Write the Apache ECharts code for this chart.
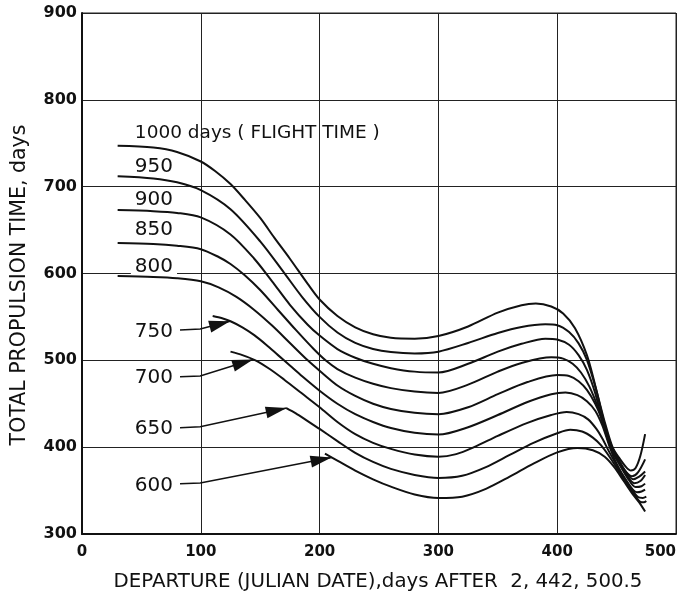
<!DOCTYPE html>
<html><head><meta charset="utf-8">
<script src="https://cdn.jsdelivr.net/npm/echarts@6/dist/echarts.min.js"></script>
<style>html,body{margin:0;padding:0;background:#fff}#c{width:677px;height:592px}</style>
</head><body><div id="c"></div>
<script>
// ---- data (departure day, total propulsion time) for each flight time curve ----
const flightTimes = [1000, 950, 900, 850, 800, 750, 700, 650, 600];

const x1000 = [30, 60, 80, 100, 112, 125, 137, 150, 162, 175, 190, 200, 215, 230, 245, 260, 280, 300, 325, 350, 370, 382, 395, 405, 415, 425, 432, 440, 446, 452, 458, 462, 466, 470, 474];
const y1000 = [747, 745, 740, 729, 718, 703, 685, 664, 641, 617, 588, 570, 551, 538, 530, 526, 525, 528, 539, 555, 563.5, 565.5, 562, 554, 537, 506, 471, 426, 401, 388, 377, 373, 376, 390, 415];

const x950 = [30, 60, 80, 100, 125, 150, 170, 185, 200, 215, 230, 245, 260, 280, 300, 325, 350, 370, 390, 400, 410, 418, 425, 432, 440, 446, 452, 458, 463, 468, 474];
const y950 = [712, 709.5, 705, 696, 674, 637, 601, 573.5, 550, 532, 520, 513, 509.5, 508, 510, 520, 531.5, 538.5, 541.5, 540.5, 532.5, 519.5, 500.5, 470, 429, 402, 385, 371.5, 366.5, 371, 386];

const x900 = [30, 60, 80, 100, 125, 145, 160, 175, 190, 200, 215, 230, 245, 260, 280, 300, 325, 350, 370, 390, 400, 410, 418, 425, 432, 439, 445, 451, 457, 464, 469, 474];
const y900 = [673, 671.8, 669.8, 664.6, 645, 617, 591, 564, 541, 528.5, 513, 503, 496, 491, 487, 486, 496, 510, 519, 525, 524, 518, 506, 489, 462, 425, 400, 386, 373, 363, 366, 372];

const x850 = [30, 60, 80, 100, 115, 125, 137, 150, 165, 180, 195, 205, 215, 230, 245, 260, 280, 300, 325, 350, 370, 395, 405, 413, 420, 427, 434, 440, 445, 451, 458, 465, 470, 474];
const y850 = [635, 634, 632, 628, 619, 611, 598, 581, 558, 535, 513, 500, 490, 480, 473, 468, 464, 462.5, 472, 487, 497, 503.5, 502, 496, 486, 470, 447, 422, 402, 385, 369, 358.5, 361, 368];

const x800 = [30, 60, 80, 100, 115, 130, 145, 160, 175, 190, 200, 215, 230, 245, 260, 280, 300, 325, 350, 375, 400, 410, 418, 425, 432, 437, 442, 446, 452, 459, 466, 471, 474];
const y800 = [597, 596, 594.5, 591, 584, 573, 558, 540, 520, 500, 488, 471, 459, 450, 444, 439.5, 438, 446, 461, 475, 483, 482, 476, 466, 450, 434, 412, 396, 381, 365, 354, 355, 358];

const x750 = [110, 118, 125, 135, 145, 155, 165, 175, 185, 200, 215, 230, 245, 260, 280, 300, 325, 350, 375, 395, 407, 417, 425, 432, 438, 444, 450, 458, 467, 471, 474];
const y750 = [551, 548.5, 545, 538, 529, 518, 506, 494, 482, 465, 450, 438, 429, 422, 416.5, 414.5, 423, 437, 452, 461, 463, 460, 453, 442, 425, 401, 381, 362, 348, 349, 351];

const x700 = [125, 135, 146, 158, 170, 185, 200, 215, 230, 245, 260, 280, 300, 315, 330, 350, 375, 395, 408, 418, 426, 433, 438, 444, 451, 460, 468, 472, 475];
const y700 = [510, 506, 500, 490, 478, 462, 446, 429, 415, 405, 398, 391.5, 389, 392, 400, 413, 428, 437, 440.5, 438, 432, 421, 410, 394, 377, 357, 342.5, 341.5, 343];

const x650 = [172, 180, 190, 200, 215, 230, 245, 260, 280, 300, 320, 340, 360, 380, 400, 411, 421, 430, 437, 444, 452, 460, 466, 470, 473, 475];
const y650 = [445, 439, 430, 421, 407, 393.5, 383, 375, 368, 364.5, 367, 377, 391, 405, 416, 420, 418, 411, 402, 389, 372, 355, 343.5, 337, 336.5, 338];

const x600 = [204.5, 215, 230, 245, 260, 280, 300, 320, 340, 360, 380, 400, 417, 430, 440, 448, 456, 464, 470, 474];
const y600 = [392.5, 384.5, 373, 363, 354.5, 345.5, 341.5, 343, 352, 366, 381, 394, 399, 396.5, 389, 377, 361, 345, 334.5, 326];

const xTicks = [0, 100, 200, 300, 400, 500];
const yTicks = [300, 400, 500, 600, 700, 800, 900];

const curveX = [x1000, x950, x900, x850, x800, x750, x700, x650, x600];
const curveY = [y1000, y950, y900, y850, y800, y750, y700, y650, y600];

const labelTexts = ['1000 days ( FLIGHT TIME )', '950', '900', '850', '800', '750', '700', '650', '600'];
const xTitle = 'DEPARTURE (JULIAN DATE),days AFTER  2, 442, 500.5';
const yTitle = 'TOTAL PROPULSION TIME, days';

// ---- annotation layout (data coordinates of label anchors / leader lines) ----
const labelAnchors = [[44.5, 762], [44.5, 723], [44.5, 685], [44.5, 650], [44.5, 608], [44.5, 533], [44.5, 480], [44.5, 421], [44.5, 356]];
const leaders = [
  {label: '750', pts: [[82.5, 535], [99.5, 536], [124.6, 545]]},
  {label: '700', pts: [[82.5, 481], [99.5, 482], [144, 501]]},
  {label: '650', pts: [[82.5, 422.4], [99.5, 423.6], [172.3, 445]]},
  {label: '600', pts: [[82.5, 358], [99.5, 358.7], [210, 388]]}
];

const FONT = '"DejaVu Sans", "Liberation Sans", sans-serif';
const ink = '#111';

const series = flightTimes.map((ft, i) => ({
  name: String(ft),
  type: 'line',
  data: curveX[i].map((x, j) => [x, curveY[i][j]]),
  smooth: 0.3,
  showSymbol: false,
  symbol: 'none',
  lineStyle: {color: ink, width: 2},
  z: 3
}));

const chart = echarts.init(document.getElementById('c'), null, {renderer: 'canvas'});
chart.setOption({
  animation: false,
  backgroundColor: '#fff',
  grid: {left: 82, right: 1, top: 13, bottom: 58, show: true, borderColor: '#222', borderWidth: 1, outerBoundsMode: 'none', containLabel: false},
  xAxis: {
    type: 'value', min: xTicks[0], max: xTicks[xTicks.length - 1], interval: 100,
    axisLine: {show: true, lineStyle: {color: ink, width: 2}},
    axisTick: {show: false},
    axisLabel: {color: ink, fontFamily: FONT, fontSize: 15, fontWeight: 'bold', margin: 11, alignMaxLabel: 'right'},
    splitLine: {show: true, lineStyle: {color: '#222', width: 1}}
  },
  yAxis: {
    type: 'value', min: yTicks[0], max: yTicks[yTicks.length - 1], interval: 100,
    axisLine: {show: true, lineStyle: {color: ink, width: 2}},
    axisTick: {show: false},
    axisLabel: {color: ink, fontFamily: FONT, fontSize: 16, fontWeight: 'bold', margin: 5},
    splitLine: {show: true, lineStyle: {color: '#222', width: 1}}
  },
  series: series
});

// ---- annotations ----
const P = (p) => chart.convertToPixel({gridIndex: 0}, p);
const g = [];
labelTexts.forEach((t, i) => {
  const p = P(labelAnchors[i]);
  const big = i === 0;
  const st = {
    text: t, fill: ink,
    font: (big ? '18.5px ' : '20px ') + FONT,
    align: 'left', verticalAlign: 'middle'
  };
  if (t === '800') { st.backgroundColor = '#fff'; st.padding = [0, 4, 0, 4]; st.lineHeight = 15; }
  g.push({type: 'text', x: p[0] - (t === '800' ? 4 : 0), y: p[1], z: 10, style: st});
});
leaders.forEach(ld => {
  const pts = ld.pts.map(P);
  g.push({type: 'polyline', z: 10, shape: {points: pts}, style: {stroke: ink, lineWidth: 1.5, fill: null}});
  const tip = pts[pts.length - 1], prev = pts[pts.length - 2];
  const dx = tip[0] - prev[0], dy = tip[1] - prev[1];
  const L = Math.hypot(dx, dy), ux = dx / L, uy = dy / L;
  const len = 21, hw = 6;
  const bx = tip[0] - ux * len, by = tip[1] - uy * len;
  g.push({type: 'polygon', z: 11, shape: {points: [tip, [bx - uy * hw, by + ux * hw], [bx + uy * hw, by - ux * hw]]}, style: {fill: ink}});
});
g.push({type: 'text', x: 378, y: 582, z: 10, style: {text: xTitle, fill: ink, font: '19.8px ' + FONT, align: 'center', verticalAlign: 'middle'}});
g.push({type: 'text', x: 20, y: 285, rotation: Math.PI / 2, z: 10, style: {text: yTitle, fill: ink, font: '20.5px ' + FONT, align: 'center', verticalAlign: 'middle'}});
chart.setOption({graphic: g});
</script>
</body></html>
